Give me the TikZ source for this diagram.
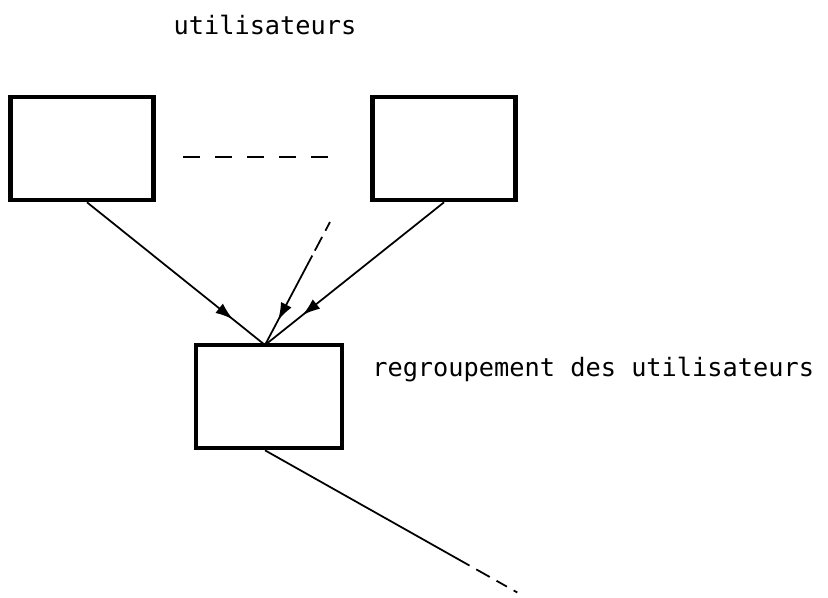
\documentclass[tikz,border=0pt]{standalone}
\usepackage{fontspec}
\setmonofont{DejaVu Sans Mono}
\usetikzlibrary{arrows.meta,decorations.markings,calc}

\begin{document}
\begin{tikzpicture}[x=0.25mm, y=-0.25mm,
		box/.style={draw, rectangle, line width=3.3pt, minimum width=35.75mm, minimum height=25.75mm, inner sep=0pt},
		label/.style={font=\ttfamily\fontsize{18}{20}\selectfont, inner sep=0pt},
		link/.style={line width=1.25pt},
		midarrow/.style={link, postaction={decorate}, decoration={markings, mark=at position #1 with {\arrow{Latex[length=4.4mm, width=3mm]}}}}]
	\useasboundingbox (0,0) rectangle (828,598);

	% Users
	\node[label] (users) at (265,25) {utilisateurs};
	\node[box] (user1) at (82,148.5) {};
	\node[box] (user2) at (444,148.5) {};
	\draw[link, line width=1.6pt, dash pattern=on 12.1pt off 10.7pt] (183,157) -- (331,157);

	% Grouping
	\node[box, minimum width=36.5mm] (group) at (269,396.5) {};
	\node[label, anchor=west] (grouplabel) at (372,370) {regroupement des utilisateurs};

	\coordinate (join) at (265,345);
	\coordinate (more) at (330,222);
	\coordinate (next) at (520,594);

	\draw[midarrow=0.82] ($(user1.south)+(5,0)$) -- (join);
	\draw[midarrow=0.79] (user2.south) -- (join);
	\draw[midarrow=0.8, dash pattern=on 7pt off 5pt on 11pt off 4pt on 200pt] (more) -- (join);

	% Onward
	\draw[link, dash pattern=on 167pt off 5.5pt on 11pt off 5.5pt on 8.5pt off 5.5pt on 3pt off 50pt] (group.south -| join) -- (next);
\end{tikzpicture}
\end{document}
